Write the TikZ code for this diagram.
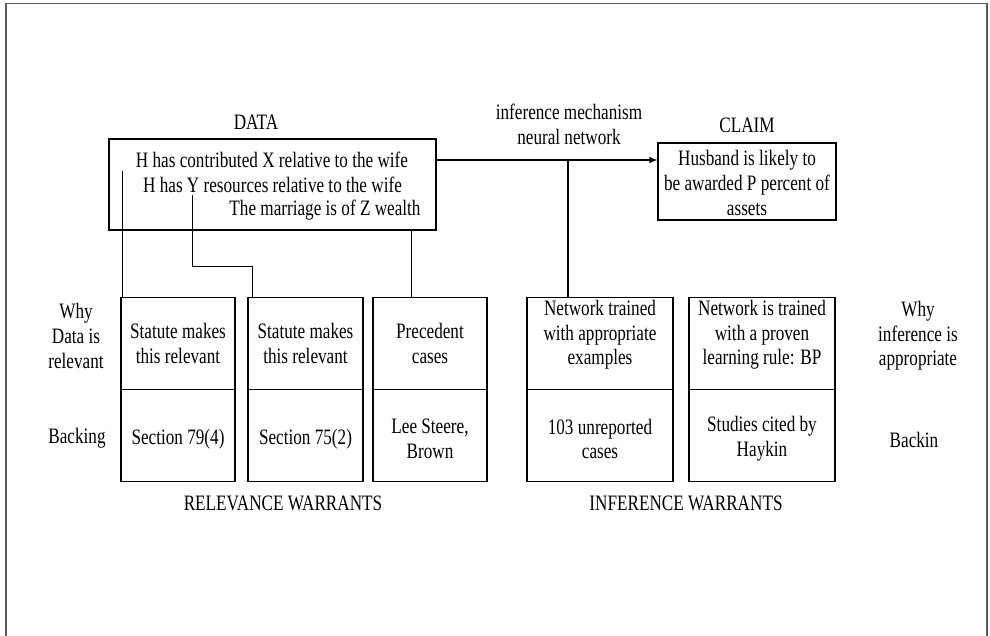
\documentclass[tikz,border=0pt]{standalone}
\usepackage{fontspec}
\setmainfont{Liberation Serif}[FakeStretch=0.78]
\usepackage{tikz}
\usetikzlibrary{arrows.meta, positioning, calc}

\begin{document}
\begin{tikzpicture}[x=0.75pt, y=-0.75pt]

    \tikzset
    {
        txt/.style={align=center, inner sep=0pt, font={\fontsize{16.5}{18.4}\selectfont}},
        cell/.style={draw, line width=0.9pt, minimum height=69pt, inner sep=0pt},
        wire/.style={line width=0.8pt},
        frame/.style={line width=1.4pt, draw=black!65}
    }

    \useasboundingbox (0,0) rectangle (990,636);
    \draw[frame] (6,650) -- (6,3.5) -- (987,3.5) -- (987,650);

    % data and claim
    \node[draw, line width=0.9pt, minimum width=245.25pt, minimum height=68.25pt] (data) at (272.5,184.5) {};
    \node[txt] (datalbl) at (256,122) {DATA};
    \node[txt] (dline1) at (272,160) {H has contributed X relative to the wife};
    \node[txt] (dline2) at (272.5,185) {H has Y resources relative to the wife};
    \node[txt] (dline3) at (325,210) {The marriage is of Z wealth};

    \node[draw, line width=0.9pt, minimum width=133.5pt, minimum height=57.75pt] (claim) at (747,181.5) {};
    \node[txt] (claimlbl) at (747,125) {CLAIM};
    \node[txt] (claimtxt) at (747,183) {Husband is likely to\\be awarded P percent of\\assets};

    \node[txt] (mech) at (569,124.5) {inference mechanism\\neural network};

    % warrants and backing
    \foreach \n/\xc/\w/\up/\uy/\lo in {
        1/178/114/{Statute makes\\this relevant}/343.5/{Section 79(4)},
        2/305.5/115/{Statute makes\\this relevant}/343.5/{Section 75(2)},
        3/430/114/{Precedent\\cases}/343.5/{Lee Steere,\\Brown},
        4/600/146/{Network trained\\with appropriate\\examples}/335/{103 unreported\\cases},
        5/762/146/{Network is trained\\with a proven\\learning rule: BP}/335/{Studies cited by\\Haykin}}
    {
        \node[cell, minimum width=\w*0.75pt] (why\n) at (\xc,343.5) {};
        \node[cell, minimum width=\w*0.75pt] (back\n) at (\xc,435.5) {};
        \node[txt] (whyt\n) at (\xc,\uy) {\up};
        \node[txt] (backt\n) at (\xc,439) {\lo};
    }

    \node[txt] (whyrel) at (76,336) {Why\\Data is\\relevant};
    \node[txt] (backrel) at (77,438) {Backing};
    \node[txt] (whyinf) at (918,336) {Why\\inference is\\appropriate};
    \node[txt] (backinf) at (914,440) {Backin};
    \node[txt] (relw) at (283,503) {RELEVANCE WARRANTS};
    \node[txt] (infw) at (686,503) {INFERENCE WARRANTS};

    % connectors
    \coordinate (d1) at (122.7,171);
    \coordinate (d2) at (192.7,195);
    \coordinate (k2) at (252.7,266.7);
    \coordinate (d3) at (411.7,230);
    \coordinate (m) at (568,160);

    \draw[wire] (d1) -- (d1 |- why1.north);
    \draw[wire] (d2) |- (k2) -- (k2 |- why2.north);
    \draw[wire] (d3 |- data.south) -- (d3 |- why3.north);
    \draw[wire, -{Latex[length=6pt, width=5pt]}] (data.east |- m) -- (claim.west |- m);
    \draw[wire] (m) -- (m |- why4.north);

\end{tikzpicture}
\end{document}
